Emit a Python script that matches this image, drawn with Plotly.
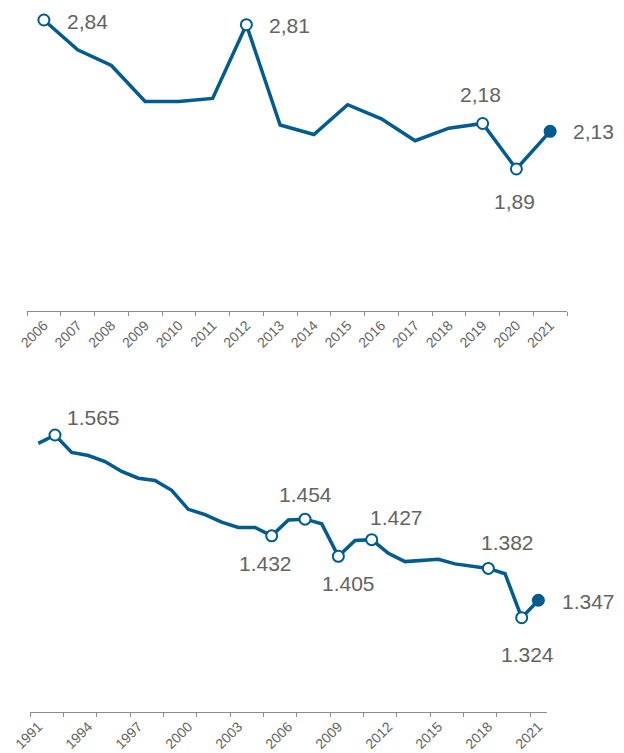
import plotly.graph_objects as go

# ---------------- data ----------------
top_years = list(range(2006, 2022))
top_values = [2.84, 2.65, 2.55, 2.32, 2.32, 2.34, 2.81, 2.17, 2.11, 2.30,
              2.21, 2.07, 2.15, 2.18, 1.89, 2.13]
top_open_years = [2006, 2012, 2019, 2020]
top_filled_years = [2021]
top_label_years = [2006, 2012, 2019, 2020, 2021]
top_tick_years = list(range(2006, 2022))

bottom_years = list(range(1991, 2022))
bottom_values = [1.554, 1.565, 1.542, 1.538, 1.530, 1.517, 1.508, 1.505, 1.492,
                 1.467, 1.460, 1.450, 1.443, 1.443, 1.432, 1.453, 1.454, 1.448,
                 1.405, 1.426, 1.427, 1.409, 1.398, 1.400, 1.401, 1.395, 1.392,
                 1.389, 1.382, 1.324, 1.347]
bottom_open_years = [1992, 2005, 2007, 2009, 2011, 2018, 2020]
bottom_filled_years = [2021]
bottom_label_years = [1992, 2005, 2007, 2009, 2011, 2019, 2020, 2021]
bottom_tick_years = list(range(1991, 2022, 3))

# ---------------- styles ----------------
BLUE = "#005b8f"
TEXT = "#636363"
AXIS = "#8c8c8c"
FONT = "Arial, Liberation Sans, sans-serif"

# label placement: (xanchor, dx, dy) in px, dy positive = down
top_label_pos = {
    2006: ("left", 22, 1), 2012: ("left", 22, 1), 2019: ("center", -2, -29),
    2020: ("center", -2, 33), 2021: ("left", 22, 0),
}
bottom_label_pos = {
    1992: ("left", 11, -18), 2005: ("center", -6, 28), 2007: ("center", 0, -25),
    2009: ("center", 10, 27), 2011: ("left", -3, -22), 2019: ("center", 2, -31),
    2020: ("center", 6, 37), 2021: ("left", 23, 1),
}


def fmt_top(v):
    return f"{v:.2f}".replace(".", ",")


def fmt_bottom(v):
    return f"{v:.3f}"


fig = go.Figure()


def add_series(years, values, open_years, filled_years, xa, ya):
    lookup = dict(zip(years, values))
    fig.add_trace(go.Scatter(x=years, y=values, mode="lines",
                             line=dict(color=BLUE, width=3.5),
                             xaxis=xa, yaxis=ya, hoverinfo="skip", showlegend=False))
    fig.add_trace(go.Scatter(x=open_years, y=[lookup[y] for y in open_years], mode="markers",
                             marker=dict(size=11, color="white", line=dict(color=BLUE, width=2)),
                             xaxis=xa, yaxis=ya, showlegend=False))
    fig.add_trace(go.Scatter(x=filled_years, y=[lookup[y] for y in filled_years], mode="markers",
                             marker=dict(size=13, color=BLUE, line=dict(color=BLUE, width=0)),
                             xaxis=xa, yaxis=ya, showlegend=False))


add_series(top_years, top_values, top_open_years, top_filled_years, "x", "y")
add_series(bottom_years, bottom_values, bottom_open_years, bottom_filled_years, "x2", "y2")

annotations = []
tl = dict(zip(top_years, top_values))
for yr in top_label_years:
    anc, dx, dy = top_label_pos[yr]
    annotations.append(dict(x=yr, y=tl[yr], xref="x", yref="y", text=fmt_top(tl[yr]),
                            showarrow=False, xanchor=anc, yanchor="middle",
                            xshift=dx, yshift=-dy, borderpad=0,
                            font=dict(family=FONT, size=21, color=TEXT)))
bl = dict(zip(bottom_years, bottom_values))
for yr in bottom_label_years:
    anc, dx, dy = bottom_label_pos[yr]
    annotations.append(dict(x=yr, y=bl[yr], xref="x2", yref="y2", text=fmt_bottom(bl[yr]),
                            showarrow=False, xanchor=anc, yanchor="middle",
                            xshift=dx, yshift=-dy, borderpad=0,
                            font=dict(family=FONT, size=21, color=TEXT)))

W, H = 624, 753
axis_common = dict(showline=True, linecolor=AXIS, linewidth=1, showgrid=False, zeroline=False,
                   ticks="", tickangle=-45, tickmode="array", automargin=False,
                   tickfont=dict(family=FONT, size=14, color=TEXT))

fig.update_layout(
    template="none",
    width=W, height=H, margin=dict(l=0, r=0, t=0, b=0, autoexpand=False),
    paper_bgcolor="white", plot_bgcolor="white",
    annotations=annotations, showlegend=False,
    xaxis=dict(axis_common, domain=[27 / W, 567 / W], range=[2005.5, 2021.5],
               tickvals=top_tick_years, ticktext=[str(y) for y in top_tick_years],
               minor=dict(tickmode="array", tickvals=[y - 0.5 for y in top_years] + [top_years[-1] + 0.5],
                          ticks="outside", ticklen=4, tickcolor=AXIS, showgrid=False),
               anchor="y"),
    yaxis=dict(domain=[1 - 310.7 / H, 1], range=[0.986, 2.9676], visible=False, anchor="x",
               automargin=False),
    xaxis2=dict(axis_common, domain=[30 / W, 546.7 / W], range=[1990.5, 2021.5],
                tickvals=bottom_tick_years, ticktext=[str(y) for y in bottom_tick_years],
                minor=dict(tickmode="array", tickvals=[y - 0.5 for y in bottom_years[::2]],
                           ticks="outside", ticklen=4, tickcolor=AXIS, showgrid=False),
                anchor="y2"),
    yaxis2=dict(domain=[1 - 712 / H, 1 - 400 / H], range=[1.1996, 1.6112], visible=False,
                anchor="x2", automargin=False),
)

fig.write_html("out.html", config={"displayModeBar": False},
               post_script="document.body.style.margin='0';")
